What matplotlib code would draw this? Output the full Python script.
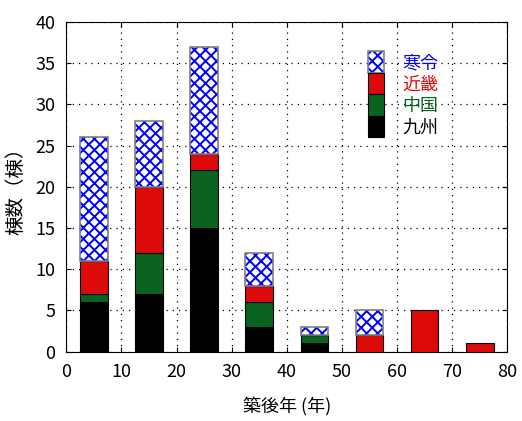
import matplotlib
matplotlib.use("Agg")
import matplotlib.pyplot as plt
import matplotlib.patches as mpatches
import numpy as np

plt.rcParams["font.family"] = ["Noto Sans CJK JP", "DejaVu Sans"]
plt.rcParams["hatch.linewidth"] = 1.4

years = [5, 15, 25, 35, 45, 55, 65, 75]
kyushu = [6, 7, 15, 3, 1, 0, 0, 0]
chugoku = [1, 5, 7, 3, 1, 0, 0, 0]
kinki = [4, 8, 2, 2, 0, 2, 5, 1]
kanrei = [15, 8, 13, 4, 1, 3, 0, 0]

fig, ax = plt.subplots(figsize=(5.22, 4.21), dpi=100)
fig.subplots_adjust(left=0.127, right=0.972, top=0.948, bottom=0.165)

x = np.array(years)
b1 = np.array(kyushu)
b2 = b1 + np.array(chugoku)
b3 = b2 + np.array(kinki)

ax.bar(x, kyushu, width=5, color="black", edgecolor="black", linewidth=0.8, zorder=3)
ax.bar(x, chugoku, width=5, bottom=b1, color="#0a6420", edgecolor="black", linewidth=0.8, zorder=3)
ax.bar(x, kinki, width=5, bottom=b2, color="#dd0a0a", edgecolor="black", linewidth=0.8, zorder=3)
mask = np.array(kanrei) > 0
ax.bar(x[mask], np.array(kanrei)[mask], width=5, bottom=b3[mask], color="white",
       edgecolor="blue", hatch="xxx", linewidth=0, zorder=3)
ax.bar(x[mask], np.array(kanrei)[mask], width=5, bottom=b3[mask], fill=False,
       edgecolor="gray", linewidth=1.2, zorder=4)

ax.set_xlim(0, 80)
ax.set_ylim(0, 40)
ax.set_xticks(range(0, 81, 10))
ax.set_yticks(range(0, 41, 5))
ax.grid(True, linestyle=(0, (1, 4)), color="black", linewidth=0.9, zorder=0)
ax.tick_params(direction="in", labelsize=13, top=True, right=True, pad=8)
ax.set_xlabel("築後年 (年)", fontsize=13, labelpad=12)
ax.set_ylabel("棟数（棟）", fontsize=14, labelpad=6)

hatch_h = (mpatches.Patch(facecolor="white", edgecolor="blue", hatch="xxx", linewidth=0),
           mpatches.Patch(fill=False, edgecolor="gray", linewidth=1.2))
handles = [
    hatch_h,
    mpatches.Patch(facecolor="#dd0a0a", edgecolor="black", linewidth=0.8),
    mpatches.Patch(facecolor="#0a6420", edgecolor="black", linewidth=0.8),
    mpatches.Patch(facecolor="black", edgecolor="black", linewidth=0.8),
]
labels = ["寒令", "近畿", "中国", "九州"]
ax.legend(handles, labels, loc="upper right", bbox_to_anchor=(0.88, 0.96), frameon=False,
          fontsize=13, labelcolor=["blue", "#dd0a0a", "#0a6420", "black"],
          handlelength=0.9, handleheight=1.45, labelspacing=0.0, handletextpad=1.0)

fig.savefig("out.png")
